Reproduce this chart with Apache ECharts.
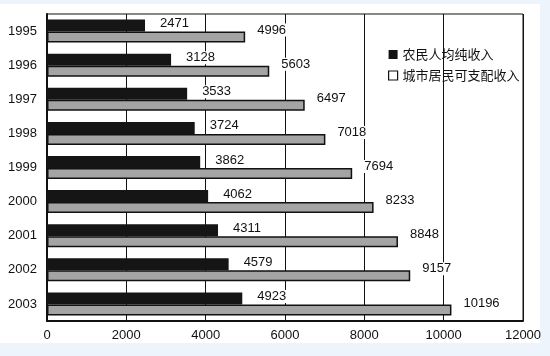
<!DOCTYPE html>
<html><head><meta charset="utf-8">
<script src="https://cdn.jsdelivr.net/npm/echarts@6/dist/echarts.min.js"></script>
<style>html,body{margin:0;padding:0;background:#eef4fb;}#c{width:550px;height:356px;}</style>
</head><body><div id="c"></div>
<script>
const years = ['1995','1996','1997','1998','1999','2000','2001','2002','2003'];
const farmerIncome = [2471,3128,3533,3724,3862,4062,4311,4579,4923];
const urbanIncome = [4996,5603,6497,7018,7694,8233,8848,9157,10196];
const xTicks = [0,2000,4000,6000,8000,10000,12000];
const seriesNames = ['农民人均纯收入','城市居民可支配收入'];

const numFont = "'Liberation Sans',Arial,sans-serif";
const cjkFont = "'Noto Sans CJK SC',sans-serif";
const chart = echarts.init(document.getElementById('c'));
chart.setOption({
  backgroundColor: '#eef4fb',
  animation: false,
  graphic: [{type:'rect', z:-10, shape:{x:0,y:4,width:540,height:339}, style:{fill:'#ffffff'}}],
  grid: {left:47, right:27, top:14, bottom:35, show:true, borderColor:'#111', borderWidth:1, backgroundColor:'transparent'},
  legend: {
    orient:'vertical', left:383, top:43, itemWidth:9, itemHeight:9, itemGap:8,
    textStyle:{fontFamily:cjkFont, fontSize:13, color:'#111'},
    data:[
      {name:seriesNames[0], icon:'rect', itemStyle:{color:'#111', borderWidth:0}},
      {name:seriesNames[1], icon:'rect', itemStyle:{color:'#fff', borderColor:'#111', borderWidth:1.2}}
    ]
  },
  xAxis: {
    type:'value', min:xTicks[0], max:xTicks[xTicks.length-1], interval:2000,
    axisLine:{show:true, lineStyle:{color:'#111', width:2}},
    axisTick:{show:false},
    axisLabel:{color:'#111', fontFamily:numFont, fontSize:13, margin:8, formatter:function(v){return String(v);}},
    splitLine:{show:true, lineStyle:{color:'#111', width:1}}
  },
  yAxis: {
    type:'category', data:years, inverse:true,
    axisLine:{show:true, lineStyle:{color:'#111', width:2}},
    axisTick:{show:false},
    axisLabel:{color:'#111', fontFamily:numFont, fontSize:13, margin:10}
  },
  series: [
    {name:seriesNames[0], type:'bar', data:farmerIncome, barWidth:12, barGap:'0%',
     itemStyle:{color:'#151515'},
     label:{show:true, position:'right', offset:[8,-2], color:'#111', fontFamily:numFont, fontSize:13, backgroundColor:'#fff', padding:[0,2]}},
    {name:seriesNames[1], type:'bar', data:urbanIncome, barWidth:11,
     itemStyle:{color:'#a4a4a4', borderColor:'#111', borderWidth:1.5},
     label:{show:true, position:'right', offset:[5,-7], color:'#111', fontFamily:numFont, fontSize:13, backgroundColor:'#fff', padding:[0,2]}}
  ]
});
</script></body></html>
